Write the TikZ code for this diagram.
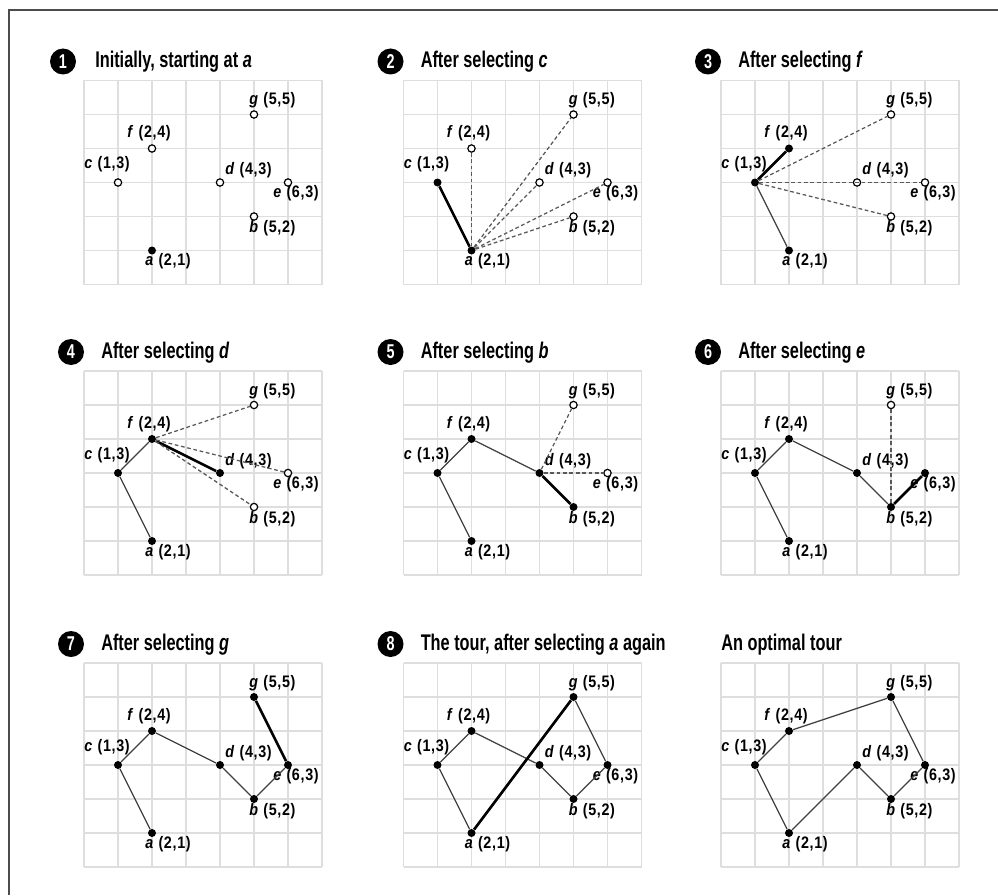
\documentclass[tikz,border=0pt]{standalone}
\usepackage{fontspec}
\setmainfont{Liberation Sans}
\newfontfamily\titlefont{Liberation Sans}[FakeStretch=0.72]
\newfontfamily\labelfont{Liberation Sans}[FakeStretch=0.86, LetterSpace=4]
\usetikzlibrary{positioning}

\tikzset{
  gridline/.style={draw=black!13, line width=1.2pt},
  visited/.style={circle, fill=black, inner sep=0pt, minimum size=6pt},
  unvisited/.style={circle, draw=black, fill=white, line width=0.9pt, inner sep=0pt, minimum size=5.5pt},
  tour/.style={draw=black!75, line width=0.95pt},
  chosen/.style={draw=black, line width=2pt},
  candidate/.style={draw=black!65, line width=0.95pt, dash pattern=on 2.8pt off 2pt},
  citylabel/.style={font=\labelfont\bfseries\fontsize{12.5}{13}\selectfont, inner sep=0pt},
  stepnum/.style={circle, fill=black, text=white, inner sep=0pt, minimum size=19.5pt,
    font=\titlefont\bfseries\fontsize{15}{15}\selectfont},
  paneltitle/.style={anchor=base west, inner sep=0pt, font=\titlefont\bfseries\fontsize{17}{19}\selectfont},
  frameline/.style={draw=black!70, line width=1.5pt}
}

% grid, the seven cities and their labels; one style per city, in the order a..g
\newcommand{\cities}[7]{%
  \draw[gridline, step=1] (0,0) grid (7,6);
  \node[#1] (a) at (2,1) {};
  \node[#2] (b) at (5,2) {};
  \node[#3] (c) at (1,3) {};
  \node[#4] (d) at (4,3) {};
  \node[#5] (e) at (6,3) {};
  \node[#6] (f) at (2,4) {};
  \node[#7] (g) at (5,5) {};
  \node[citylabel, anchor=north west, xshift=-5.25pt, yshift=-2.25pt] (a-lbl) at (a) {\textit{a} (2,1)};
  \node[citylabel, anchor=north west, xshift=-3.75pt, yshift=-3pt] (b-lbl) at (b) {\textit{b} (5,2)};
  \node[citylabel, anchor=south east, xshift=9pt, yshift=7.5pt] (c-lbl) at (c) {\textit{c} (1,3)};
  \node[citylabel, anchor=south west, xshift=3.75pt, yshift=3pt] (d-lbl) at (d) {\textit{d} (4,3)};
  \node[citylabel, anchor=north west, xshift=-11.25pt, yshift=-2.25pt] (e-lbl) at (e) {\textit{e} (6,3)};
  \node[citylabel, anchor=south, xshift=-2.25pt, yshift=5.25pt] (f-lbl) at (f) {\textit{f} (2,4)};
  \node[citylabel, anchor=south west, xshift=-3.75pt, yshift=4.5pt] (g-lbl) at (g) {\textit{g} (5,5)};
}

\begin{document}
\begin{tikzpicture}[x=0.75pt, y=-0.75pt]
  \useasboundingbox (0,0) rectangle (998,895);

  % frame, cut off at the right and at the bottom
  \draw[frameline] (9,895) -- (9,10.5) -- (998,10.5);

  % Step 1
  \begin{scope}[shift={(84,284.5)}, x=25.5pt, y=25.5pt]
    \cities{visited}{unvisited}{unvisited}{unvisited}{unvisited}{unvisited}{unvisited}
    \node[stepnum, xshift=-15.75pt, yshift=14.25pt] (n1) at (0,6) {1};
    \node[paneltitle, xshift=8.25pt, yshift=9.75pt] (t1) at (0,6) {Initially, starting at \textit{a}};
  \end{scope}

  % Step 2
  \begin{scope}[shift={(403.5,284.5)}, x=25.5pt, y=25.5pt]
    \cities{visited}{unvisited}{visited}{unvisited}{unvisited}{unvisited}{unvisited}
    \draw[chosen] (a) -- (c);
    \foreach \to in {f,g,d,e,b} \draw[candidate] (a) -- (\to);
    \node[stepnum, xshift=-9.75pt, yshift=14.25pt] (n2) at (0,6) {2};
    \node[paneltitle, xshift=12.75pt, yshift=9.75pt] (t2) at (0,6) {After selecting \textit{c}};
  \end{scope}

  % Step 3
  \begin{scope}[shift={(721,284.5)}, x=25.5pt, y=25.5pt]
    \cities{visited}{unvisited}{visited}{unvisited}{unvisited}{visited}{unvisited}
    \draw[tour] (a) -- (c);
    \draw[chosen] (c) -- (f);
    \foreach \to in {g,d,e,b} \draw[candidate] (c) -- (\to);
    \node[stepnum, xshift=-9.75pt, yshift=14.25pt] (n3) at (0,6) {3};
    \node[paneltitle, xshift=12.75pt, yshift=9.75pt] (t3) at (0,6) {After selecting \textit{f}};
  \end{scope}

  % Step 4
  \begin{scope}[shift={(84,575)}, x=25.5pt, y=25.5pt]
    \cities{visited}{unvisited}{visited}{visited}{unvisited}{visited}{unvisited}
    \draw[tour] (a) -- (c) -- (f);
    \draw[chosen] (f) -- (d);
    \foreach \to in {g,e,b} \draw[candidate] (f) -- (\to);
    \node[stepnum, xshift=-9.75pt, yshift=14.25pt] (n4) at (0,6) {4};
    \node[paneltitle, xshift=12.75pt, yshift=9.75pt] (t4) at (0,6) {After selecting \textit{d}};
  \end{scope}

  % Step 5
  \begin{scope}[shift={(403.5,575)}, x=25.5pt, y=25.5pt]
    \cities{visited}{visited}{visited}{visited}{unvisited}{visited}{unvisited}
    \draw[tour] (a) -- (c) -- (f) -- (d);
    \draw[chosen] (d) -- (b);
    \foreach \to in {g,e} \draw[candidate] (d) -- (\to);
    \node[stepnum, xshift=-9.75pt, yshift=14.25pt] (n5) at (0,6) {5};
    \node[paneltitle, xshift=12.75pt, yshift=9.75pt] (t5) at (0,6) {After selecting \textit{b}};
  \end{scope}

  % Step 6
  \begin{scope}[shift={(721,575)}, x=25.5pt, y=25.5pt]
    \cities{visited}{visited}{visited}{visited}{visited}{visited}{unvisited}
    \draw[tour] (a) -- (c) -- (f) -- (d) -- (b);
    \draw[chosen] (b) -- (e);
    \draw[candidate] (b) -- (g);
    \node[stepnum, xshift=-9.75pt, yshift=14.25pt] (n6) at (0,6) {6};
    \node[paneltitle, xshift=12.75pt, yshift=9.75pt] (t6) at (0,6) {After selecting \textit{e}};
  \end{scope}

  % Step 7
  \begin{scope}[shift={(84,867)}, x=25.5pt, y=25.5pt]
    \cities{visited}{visited}{visited}{visited}{visited}{visited}{visited}
    \draw[tour] (a) -- (c) -- (f) -- (d) -- (b) -- (e);
    \draw[chosen] (e) -- (g);
    \node[stepnum, xshift=-9.75pt, yshift=14.25pt] (n7) at (0,6) {7};
    \node[paneltitle, xshift=12.75pt, yshift=9.75pt] (t7) at (0,6) {After selecting \textit{g}};
  \end{scope}

  % Step 8, back to a
  \begin{scope}[shift={(403.5,867)}, x=25.5pt, y=25.5pt]
    \cities{visited}{visited}{visited}{visited}{visited}{visited}{visited}
    \draw[tour] (a) -- (c) -- (f) -- (d) -- (b) -- (e) -- (g);
    \draw[chosen] (g) -- (a);
    \node[stepnum, xshift=-9.75pt, yshift=14.25pt] (n8) at (0,6) {8};
    \node[paneltitle, xshift=12.75pt, yshift=9.75pt] (t8) at (0,6) {The tour, after selecting \textit{a} again};
  \end{scope}

  % optimal tour
  \begin{scope}[shift={(721,867)}, x=25.5pt, y=25.5pt]
    \cities{visited}{visited}{visited}{visited}{visited}{visited}{visited}
    \draw[tour] (a) -- (c) -- (f) -- (g) -- (e) -- (b) -- (d) -- (a);
    \node[paneltitle, yshift=9.75pt] (t9) at (0,6) {An optimal tour};
  \end{scope}

\end{tikzpicture}
\end{document}
